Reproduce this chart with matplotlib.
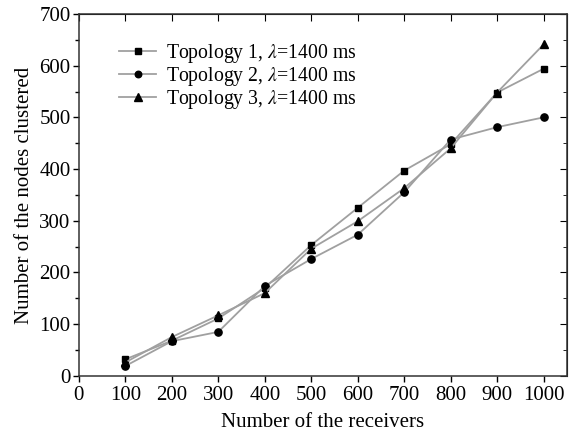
import matplotlib
matplotlib.use("Agg")
import matplotlib.pyplot as plt
from matplotlib.ticker import MultipleLocator

plt.rcParams['font.family'] = ['Liberation Serif', 'DejaVu Serif']
plt.rcParams['mathtext.fontset'] = 'stix'

receivers = [100, 200, 300, 400, 500, 600, 700, 800, 900, 1000]
topology1 = [32, 68, 111, 170, 253, 325, 397, 448, 548, 594]
topology2 = [19, 67, 85, 174, 226, 273, 355, 457, 481, 500]
topology3 = [26, 75, 117, 160, 246, 299, 363, 440, 548, 641]
labels = [r"Topology 1, $\lambda$=1400 ms",
          r"Topology 2, $\lambda$=1400 ms",
          r"Topology 3, $\lambda$=1400 ms"]
x_ticks = [0, 100, 200, 300, 400, 500, 600, 700, 800, 900, 1000]
y_ticks = [0, 100, 200, 300, 400, 500, 600, 700]

fig = plt.figure(figsize=(5.76, 4.37), dpi=100)
ax = fig.add_axes([0.137, 0.140, 0.847, 0.828])

line_color = '#a0a0a0'
for ys, mk, ms, lab in zip([topology1, topology2, topology3], ['s', 'o', '^'],
                           [5, 5.2, 5.8], labels):
    ax.plot(receivers, ys, color=line_color, lw=1.3, marker=mk, ms=ms,
            mfc='black', mec='black', label=lab)

ax.set_xlim(0, 1050)
ax.set_ylim(0, 700)
ax.set_xticks(x_ticks)
ax.set_yticks(y_ticks)
ax.yaxis.set_minor_locator(MultipleLocator(50))
ax.tick_params(axis='both', which='major', labelsize=15, direction='out', length=4, width=1)
ax.tick_params(axis='y', which='minor', direction='out', length=3, width=1)
ax.tick_params(axis='x', pad=3)
ax.tick_params(axis='y', pad=2)

# secondary (top/right) ticks pointing inward
axt = ax.secondary_xaxis('top')
axt.set_xticks(x_ticks)
axt.tick_params(direction='in', length=5, labeltop=False)
axr = ax.secondary_yaxis('right')
axr.set_yticks(y_ticks)
axr.yaxis.set_minor_locator(MultipleLocator(50))
axr.tick_params(which='major', direction='in', length=5, labelright=False)
axr.tick_params(which='minor', direction='in', length=3)

for sp in ax.spines.values():
    sp.set_color('#333333')
    sp.set_linewidth(1.1)

ax.set_xlabel("Number of the receivers", fontsize=15, labelpad=6)
ax.set_ylabel("Number of the nodes clustered", fontsize=15, labelpad=4)

leg = ax.legend(loc='upper left', bbox_to_anchor=(0.066, 0.945), frameon=False,
                fontsize=14.2, handlelength=1.9, handletextpad=0.5,
                labelspacing=0.0, borderaxespad=0, markerscale=0.9)

fig.savefig("out.png", dpi=100)
